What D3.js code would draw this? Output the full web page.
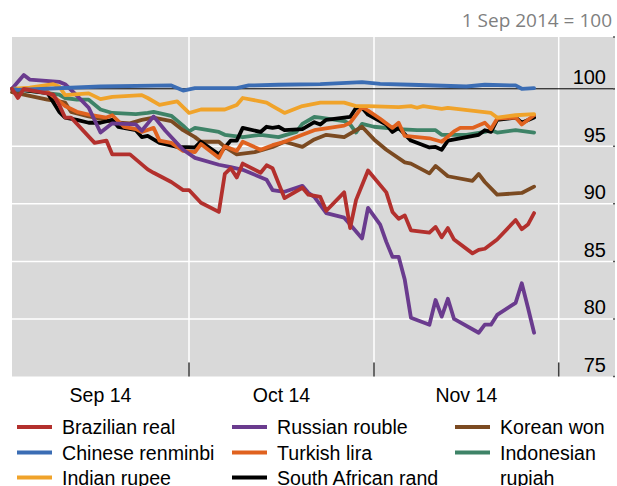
<!DOCTYPE html>
<html>
<head>
<meta charset="utf-8">
<script src="https://cdn.jsdelivr.net/npm/d3@7"></script>
<style>
  body { margin: 0; background: #fff; }
  svg { display: block; font-family: "Liberation Sans", Arial, sans-serif; }
</style>
</head>
<body>
<svg id="chart" width="617" height="486"></svg>
<script>
// index values, 1 Sep 2014 = 100  ([date, value])
const brazilianReal = [["9/1",100],["9/2",99.2],["9/3",100],["9/8",99.5],["9/9",98.6],["9/10",97.5],["9/11",97.5],["9/15",95.3],["9/17",95.5],["9/18",94.3],["9/21",94.3],["9/24",93.0],["9/25",92.7],["9/28",91.9],["9/30",91.2],["10/1",91.2],["10/3",90.1],["10/6",89.3],["10/7",92.6],["10/8",93.1],["10/9",92.3],["10/10",93.5],["10/13",92.7],["10/14",93.35],["10/15",93.1],["10/17",90.5],["10/20",91.4],["10/21",90.8],["10/23",90.6],["10/24",89.4],["10/27",91.0],["10/28",87.9],["10/29",90.35],["10/31",92.9],["11/3",91.0],["11/4",89.3],["11/5",88.7],["11/6",89.0],["11/7",87.7],["11/10",87.5],["11/11",88.0],["11/12",87.1],["11/13",87.9],["11/14",86.9],["11/17",85.7],["11/18",86.0],["11/19",86.1],["11/21",86.9],["11/24",88.6],["11/25",87.8],["11/26",88.2],["11/27",89.2]];
const chineseRenminbi = [["9/1",100],["9/2",99.9],["9/16",100.2],["9/28",100.29],["9/30",99.85],["10/2",100.06],["10/9",100.06],["10/11",100.29],["10/16",100.35],["10/23",100.4],["10/30",100.58],["11/2",100.43],["11/7",100.35],["11/16",100.2],["11/19",100.35],["11/24",100.29],["11/25",100.0],["11/27",100.06]];
const indianRupee = [["9/1",100],["9/4",100.1],["9/8",100.4],["9/9",100.2],["9/10",99.45],["9/14",99.6],["9/16",99.1],["9/18",99.3],["9/23",99.45],["9/24",99.2],["9/26",98.6],["9/29",98.9],["10/1",97.9],["10/3",98.2],["10/7",98.2],["10/9",98.6],["10/10",99.2],["10/14",98.8],["10/15",98.5],["10/17",97.9],["10/20",98.5],["10/23",98.8],["10/27",98.8],["10/29",98.5],["10/31",98.5],["11/5",98.4],["11/7",98.5],["11/8",98.35],["11/9",98.5],["11/12",98.25],["11/13",98.35],["11/20",97.9],["11/21",97.5],["11/24",97.7],["11/27",97.8]];
const russianRouble = [["9/1",100],["9/3",101.2],["9/4",100.8],["9/9",100.6],["9/10",100.4],["9/12",99.4],["9/14",98.35],["9/16",96.2],["9/18",97.0],["9/22",96.9],["9/23",96.35],["9/25",97.6],["9/27",96.35],["9/30",94.7],["10/2",94.0],["10/6",93.4],["10/8",93.2],["10/10",92.96],["10/14",92.1],["10/15",91.2],["10/17",91.05],["10/20",91.57],["10/21",90.96],["10/22",90.6],["10/24",89.2],["10/27",88.8],["10/28",88.2],["10/30",87.0],["10/31",89.65],["11/2",88.2],["11/3",86.7],["11/4",85.4],["11/5",85.4],["11/6",83.4],["11/7",80.1],["11/10",79.5],["11/11",81.65],["11/12",80.2],["11/13",81.75],["11/14",80.0],["11/18",78.8],["11/19",79.5],["11/20",79.5],["11/21",80.35],["11/24",81.4],["11/25",83.1],["11/26",81.0],["11/27",78.8]];
const turkishLira = [["9/1",100],["9/7",99.75],["9/10",98.5],["9/12",98.0],["9/14",97.75],["9/17",97.5],["9/18",97.7],["9/20",96.7],["9/22",96.5],["9/23",96.25],["9/25",96.6],["9/26",95.5],["9/28",95.3],["9/29",94.95],["9/30",94.6],["10/2",94.5],["10/3",95.2],["10/6",94.0],["10/7",95.0],["10/9",94.6],["10/10",95.4],["10/13",94.7],["10/15",95.1],["10/17",95.4],["10/20",96.0],["10/22",96.4],["10/27",96.8],["10/28",97.05],["10/30",98.4],["10/31",98.1],["11/2",97.4],["11/4",96.6],["11/5",97.05],["11/6",95.9],["11/10",95.7],["11/12",95.4],["11/14",96.3],["11/15",96.6],["11/17",96.6],["11/19",97.05],["11/20",96.5],["11/21",97.4],["11/24",97.5],["11/25",96.9],["11/27",97.7]];
const southAfricanRand = [["9/1",100],["9/7",99.65],["9/9",98.0],["9/10",97.5],["9/12",97.3],["9/14",97.05],["9/16",97.05],["9/18",97.3],["9/19",96.7],["9/22",96.4],["9/23",95.8],["9/24",95.9],["9/26",95.3],["9/29",94.95],["10/2",94.9],["10/3",95.4],["10/6",94.3],["10/8",95.5],["10/9",95.5],["10/10",96.6],["10/13",96.25],["10/14",96.7],["10/15",96.6],["10/16",96.7],["10/17",96.4],["10/20",96.5],["10/22",97.1],["10/23",96.9],["10/24",97.3],["10/28",97.55],["10/29",98.35],["10/30",98.35],["10/31",97.75],["11/3",96.9],["11/4",96.25],["11/5",96.6],["11/7",95.5],["11/10",94.9],["11/11",94.95],["11/12",94.7],["11/13",95.5],["11/18",96.0],["11/19",96.4],["11/20",96.25],["11/21",97.3],["11/24",97.5],["11/25",97.05],["11/27",97.5]];
const koreanWon = [["9/1",99.7],["9/3",99.5],["9/7",99.05],["9/9",98.9],["9/10",98.8],["9/11",98.0],["9/14",97.6],["9/16",97.4],["9/18",97.1],["9/21",97.0],["9/23",97.3],["9/25",97.5],["9/28",97.2],["9/30",96.4],["10/2",95.8],["10/3",95.4],["10/6",95.4],["10/7",94.95],["10/9",94.3],["10/12",94.5],["10/15",94.95],["10/17",95.4],["10/20",94.95],["10/22",95.6],["10/24",96.0],["10/27",95.8],["10/30",96.7],["11/1",95.6],["11/3",94.7],["11/6",93.6],["11/7",93.5],["11/10",92.65],["11/11",93.3],["11/13",92.4],["11/17",92.0],["11/18",92.6],["11/19",91.9],["11/21",90.8],["11/25",90.95],["11/27",91.5]];
const indonesianRupiah = [["9/1",100],["9/9",99.5],["9/10",99.2],["9/12",99.05],["9/14",99.05],["9/16",98.2],["9/18",97.9],["9/22",97.8],["9/24",97.9],["9/25",98.0],["9/28",97.65],["9/30",96.8],["10/1",96.3],["10/2",96.6],["10/6",96.25],["10/7",96.0],["10/10",95.8],["10/13",96.0],["10/16",95.8],["10/19",96.25],["10/20",96.95],["10/22",97.55],["10/23",97.5],["10/27",97.2],["10/28",96.9],["10/29",96.2],["10/30",96.95],["11/1",96.7],["11/5",96.5],["11/8",96.4],["11/11",96.4],["11/12",96.0],["11/16",96.0],["11/19",96.25],["11/20",96.4],["11/21",96.2],["11/24",96.4],["11/27",96.2]];

const currencies = ["Brazilian real", "Chinese renminbi", "Indian rupee", "Russian rouble", "Turkish lira", "South African rand", "Korean won", "Indonesian rupiah"];
const colours = ["#b3302d", "#3b6db4", "#f0a32a", "#6a3b8e", "#e0621f", "#000000", "#7b4a21", "#3e8367"];
const seriesData = [brazilianReal, chineseRenminbi, indianRupee, russianRouble, turkishLira, southAfricanRand, koreanWon, indonesianRupiah];

const yTicks = [75, 80, 85, 90, 95, 100];
const monthStarts = ["9/1", "10/1", "11/1", "12/1"];
const monthLabels = ["Sep 14", "Oct 14", "Nov 14"];
const noteText = "1 Sep 2014 = 100";

const parse = s => d3.timeParse("%m/%d/%Y")(s + "/2014");
const months = monthStarts.map(parse);

const plotLeft = 12, plotRight = 615, plotTop = 37, plotBottom = 376.5;

const svg = d3.select("#chart");

const x = d3.scaleTime()
  .domain(months)
  .range([plotLeft, 189, 374, 558.7]);

const y = d3.scaleLinear()
  .domain([75, 104.5])
  .range([plotBottom, plotTop]);

// grey plot background
svg.append("rect")
  .attr("x", plotLeft).attr("y", plotTop)
  .attr("width", plotRight - plotLeft).attr("height", plotBottom - plotTop)
  .attr("fill", "#d9d9d9");

// horizontal grid
svg.append("g")
  .selectAll("line")
  .data(yTicks.filter(d => d > 75 && d < 100))
  .enter().append("line")
  .attr("x1", plotLeft).attr("x2", plotRight)
  .attr("y1", d => y(d)).attr("y2", d => y(d))
  .attr("stroke", "#fff").attr("stroke-width", 1.5);

// vertical grid at month starts + dark ticks at the bottom
const vg = svg.append("g");
vg.selectAll("line.grid")
  .data(months.slice(1))
  .enter().append("line")
  .attr("class", "grid")
  .attr("x1", d => x(d)).attr("x2", d => x(d))
  .attr("y1", plotTop).attr("y2", plotBottom - 14)
  .attr("stroke", "#fff").attr("stroke-width", 1.5);
vg.selectAll("line.tick")
  .data(months.slice(1))
  .enter().append("line")
  .attr("class", "tick")
  .attr("x1", d => x(d)).attr("x2", d => x(d))
  .attr("y1", plotBottom - 14).attr("y2", plotBottom)
  .attr("stroke", "#404040").attr("stroke-width", 1.5);

// 100 reference line
svg.append("line")
  .attr("x1", plotLeft).attr("x2", plotRight)
  .attr("y1", y(100)).attr("y2", y(100))
  .attr("stroke", "#000").attr("stroke-width", 1);

// y axis on the right, labels sit above the gridlines
const yAxis = svg.append("g")
  .attr("transform", "translate(606,0)")
  .call(d3.axisRight(y).tickValues(yTicks).tickSize(0).tickPadding(0));
yAxis.select(".domain").remove();
yAxis.selectAll("text")
  .attr("x", 0).attr("dy", "-5px")
  .attr("text-anchor", "end")
  .attr("font-size", 20)
  .attr("font-family", "Liberation Sans, Arial, sans-serif")
  .attr("fill", "#000");

// small marks on the right edge
svg.append("g")
  .selectAll("line")
  .data(yTicks.concat([104.5]))
  .enter().append("line")
  .attr("x1", plotRight - 2).attr("x2", plotRight)
  .attr("y1", d => y(d)).attr("y2", d => y(d))
  .attr("stroke", "#555").attr("stroke-width", 1.5);

// month labels centred between month starts
svg.append("g")
  .selectAll("text")
  .data(monthLabels)
  .enter().append("text")
  .attr("x", (d, i) => (x(months[i]) + x(months[i + 1])) / 2)
  .attr("y", 402)
  .attr("text-anchor", "middle")
  .attr("font-size", 19.5)
  .text(d => d);

// lines, first legend entry drawn on top
const line = d3.line()
  .x(d => x(parse(d[0])))
  .y(d => y(d[1]));

const lines = svg.append("g");
d3.range(seriesData.length).reverse().forEach(i => {
  lines.append("path")
    .datum(seriesData[i])
    .attr("d", line)
    .attr("fill", "none")
    .attr("stroke", colours[i])
    .attr("stroke-width", 3.8)
    .attr("stroke-linejoin", "round")
    .attr("stroke-linecap", "round");
});

// note at top right
svg.append("text")
  .attr("x", 612).attr("y", 27)
  .attr("text-anchor", "end")
  .attr("font-family", "Open Sans, sans-serif")
  .attr("font-size", 19)
  .attr("fill", "#7f7f7f")
  .text(noteText);

// legend, 3 columns filled top to bottom
const colX = [17, 232, 455];
const rowY = [427, 452.5, 477.5];
const legend = svg.append("g");
currencies.forEach((name, i) => {
  const cx = colX[Math.floor(i / 3)], cy = rowY[i % 3];
  legend.append("line")
    .attr("x1", cx).attr("x2", cx + 35)
    .attr("y1", cy).attr("y2", cy)
    .attr("stroke", colours[i]).attr("stroke-width", 4);
  const t = legend.append("text")
    .attr("x", cx + 45).attr("y", cy + 7)
    .attr("font-size", 19.6);
  const words = name === "Indonesian rupiah" ? ["Indonesian", "rupiah"] : [name];
  words.forEach((w, k) => {
    t.append("tspan").attr("x", cx + 45).attr("dy", k ? 25 : 0).text(w);
  });
});
</script>
</body>
</html>
